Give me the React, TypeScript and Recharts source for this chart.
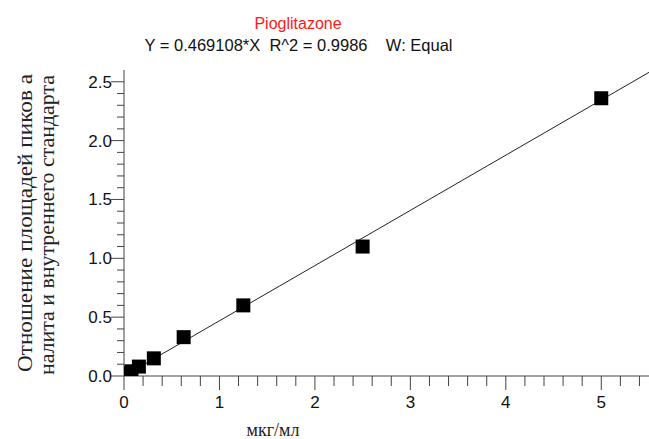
import React from "react";
import { ComposedChart, Line, Scatter, XAxis, YAxis } from "recharts";

const concentrations = [0.039, 0.078, 0.156, 0.3125, 0.625, 1.25, 2.5, 5];
const ratios = [0.025, 0.04, 0.08, 0.15, 0.33, 0.6, 1.1, 2.36];
const fitX = [0, 5.5];
const fitY = [0, 2.58];
const xTicks = [0, 0.2, 0.4, 0.6, 0.8, 1, 1.2, 1.4, 1.6, 1.8, 2, 2.2, 2.4, 2.6, 2.8, 3, 3.2, 3.4, 3.6, 3.8, 4, 4.2, 4.4, 4.6, 4.8, 5, 5.2, 5.4];
const xMajor = [0, 1, 2, 3, 4, 5];
const yTicks = [0, 0.1, 0.2, 0.3, 0.4, 0.5, 0.6, 0.7, 0.8, 0.9, 1, 1.1, 1.2, 1.3, 1.4, 1.5, 1.6, 1.7, 1.8, 1.9, 2, 2.1, 2.2, 2.3, 2.4, 2.5];
const yMajor = [0, 0.5, 1, 1.5, 2, 2.5];

const points = concentrations.map((x, i) => ({ x, y: ratios[i] }));
const fitLine = fitX.map((x, i) => ({ x, y: fitY[i] }));

const sans = "'Liberation Sans', Arial, sans-serif";
const serif = "'Liberation Serif', 'Times New Roman', serif";
const axisColor = "#444";

const isMajor = (v: number, majors: number[]) => majors.some((m) => Math.abs(m - v) < 1e-6);

const XTick = (props: any) => {
  const { x, y, payload } = props;
  const major = isMajor(payload.value, xMajor);
  return (
    <g>
      <line x1={x} x2={x} y1={y} y2={y + (major ? 14 : 10)} stroke={axisColor} strokeWidth={1} />
      {major && (
        <text x={x} y={y + 32} textAnchor="middle" fontFamily={sans} fontSize={17} fill="#111">
          {String(Math.round(payload.value))}
        </text>
      )}
    </g>
  );
};

const YTick = (props: any) => {
  const { x, y, payload } = props;
  const major = isMajor(payload.value, yMajor);
  return (
    <g>
      <line x1={x - (major ? 13 : 7)} x2={x} y1={y} y2={y} stroke={axisColor} strokeWidth={1} />
      {major && (
        <text x={x - 12} y={y + 6} textAnchor="end" fontFamily={sans} fontSize={17} fill="#111">
          {payload.value.toFixed(1)}
        </text>
      )}
    </g>
  );
};

const Square = (props: any) => {
  const { cx, cy } = props;
  return <rect x={cx - 7} y={cy - 7} width={14} height={14} fill="#000" />;
};

const YLabel = () => (
  <g fontFamily={serif} fontSize={20} fill="#222">
    <text
      x={25}
      y={223}
      transform="rotate(-90 25 223)"
      textAnchor="middle"
      dominantBaseline="central"
      textLength={298}
      lengthAdjust="spacingAndGlyphs"
    >
      Отношение площадей пиков а
    </text>
    <text
      x={47}
      y={225}
      transform="rotate(-90 47 225)"
      textAnchor="middle"
      dominantBaseline="central"
      textLength={300}
      lengthAdjust="spacingAndGlyphs"
    >
      налита и внутреннего стандарта
    </text>
  </g>
);

const XLabel = () => (
  <text x={273} y={436} textAnchor="middle" fontFamily={serif} fontSize={18} fill="#222">
    мкг/мл
  </text>
);

export default function App() {
  return (
    <div style={{ position: "absolute", left: 0, top: 0, width: 649, height: 439, background: "#fff" }}>
      <div
        style={{
          position: "absolute",
          left: 0,
          width: 596,
          top: 14,
          textAlign: "center",
          fontFamily: sans,
          fontSize: 16,
          color: "#ff1a1a",
          lineHeight: "20px",
        }}
      >
        Pioglitazone
      </div>
      <div
        style={{
          position: "absolute",
          left: 0,
          width: 597,
          top: 35,
          textAlign: "center",
          fontFamily: sans,
          fontSize: 16.5,
          color: "#111",
          lineHeight: "20px",
          whiteSpace: "pre",
        }}
      >
        {"Y = 0.469108*X  R^2 = 0.9986    W: Equal"}
      </div>
      <ComposedChart width={649} height={439} margin={{ top: 70, right: 0, bottom: 0, left: 0 }}>
        <XAxis
          type="number"
          dataKey="x"
          domain={[0, 5.5]}
          ticks={xTicks}
          interval={0}
          allowDataOverflow
          height={63}
          tickSize={0}
          tickMargin={0}
          tickLine={false}
          axisLine={{ stroke: axisColor }}
          tick={<XTick />}
          label={<XLabel />}
        />
        <YAxis
          type="number"
          dataKey="y"
          domain={[0, 2.6]}
          ticks={yTicks}
          interval={0}
          allowDataOverflow
          width={124}
          tickSize={0}
          tickMargin={0}
          tickLine={false}
          axisLine={{ stroke: axisColor }}
          tick={<YTick />}
          label={<YLabel />}
        />
        <Line
          data={fitLine}
          dataKey="y"
          type="linear"
          stroke="#222"
          strokeWidth={1}
          dot={false}
          activeDot={false}
          isAnimationActive={false}
        />
        <Scatter data={points} dataKey="y" shape={<Square />} isAnimationActive={false} />
      </ComposedChart>
    </div>
  );
}
